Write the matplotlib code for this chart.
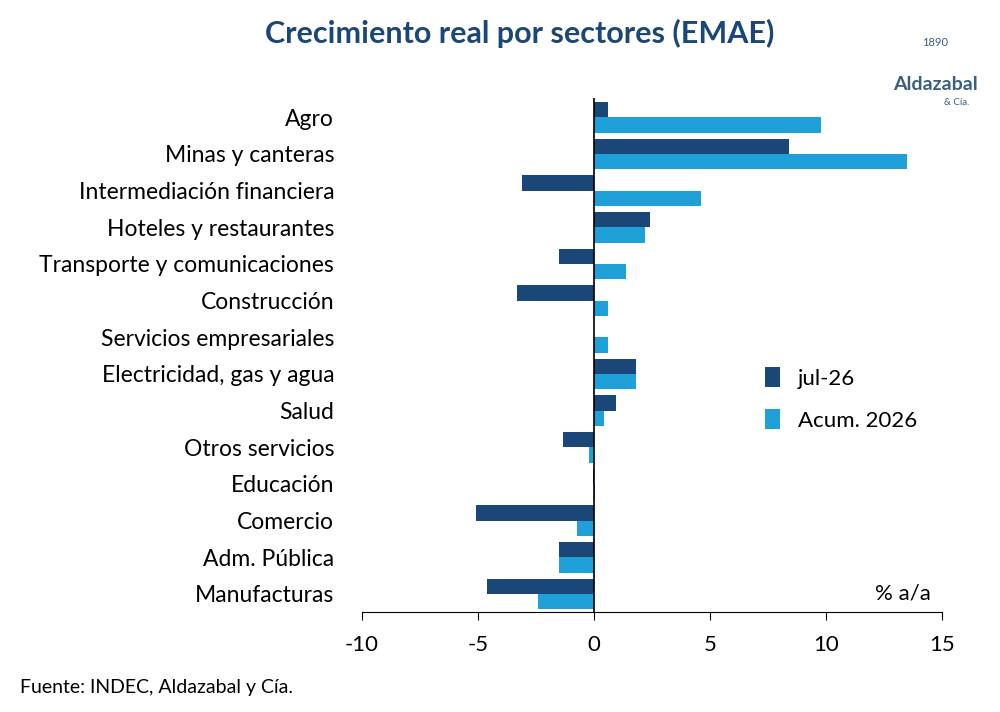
import matplotlib
matplotlib.use("Agg")
import matplotlib.pyplot as plt
import numpy as np

plt.rcParams['font.family'] = ['Lato', 'DejaVu Sans']

categories = ["Agro", "Minas y canteras", "Intermediación financiera", "Hoteles y restaurantes",
              "Transporte y comunicaciones", "Construcción", "Servicios empresariales",
              "Electricidad, gas y agua", "Salud", "Otros servicios", "Educación", "Comercio",
              "Adm. Pública", "Manufacturas"]
jul26 = [0.6, 8.4, -3.1, 2.4, -1.5, -3.3, 0.0, 1.8, 0.95, -1.35, -0.05, -5.1, -1.5, -4.6]
acum2026 = [9.8, 13.5, 4.6, 2.2, 1.4, 0.6, 0.6, 1.8, 0.45, -0.2, 0.05, -0.75, -1.5, -2.4]
xticks = [-10, -5, 0, 5, 10, 15]

dark = "#1b4778"
light = "#1fa0d8"

fig = plt.figure(figsize=(10, 7.12), dpi=100)
ax = fig.add_axes([0.362, 0.14, 0.58, 0.722])
y = np.arange(len(categories))
h = 0.42
ax.barh(y - h/2, jul26, height=h, color=dark, label="jul-26")
ax.barh(y + h/2, acum2026, height=h, color=light, label="Acum. 2026")
ax.set_ylim(len(categories) - 0.5, -0.52)
ax.set_xlim(-10, 15)
ax.set_xticks(xticks)
ax.set_xticklabels([str(t) for t in xticks], fontsize=16)
ax.set_yticks(y)
ax.set_yticklabels(categories, fontsize=16.5)
ax.tick_params(axis='y', length=0, pad=20)
ax.tick_params(axis='x', length=6, pad=10, color='black')
for s in ['top', 'right', 'left']:
    ax.spines[s].set_visible(False)
ax.axvline(0, color='black', lw=1.2)
ax.text(14.5, 13.0, "% a/a", fontsize=16, ha='right', va='center')
ax.legend(loc='center left', bbox_to_anchor=(0.66, 0.415), frameon=False, fontsize=16,
          handlelength=0.7, handleheight=1.0, labelspacing=0.9)

fig.text(0.52, 0.953, "Crecimiento real por sectores (EMAE)", ha='center', va='center',
         fontsize=22, fontweight='bold', color=dark)
fig.text(0.02, 0.035, "Fuente: INDEC, Aldazabal y Cía.", fontsize=14, va='center')
fig.text(0.935, 0.873, "Aldazabal", fontsize=14, fontweight='bold', color="#3a5f80", ha='center')
fig.text(0.957, 0.853, "& Cía.", fontsize=7, color="#3a5f80", ha='center')
fig.text(0.935, 0.935, "1890", fontsize=8, color="#3a5f80", ha='center')

fig.savefig("out.png", dpi=100)
